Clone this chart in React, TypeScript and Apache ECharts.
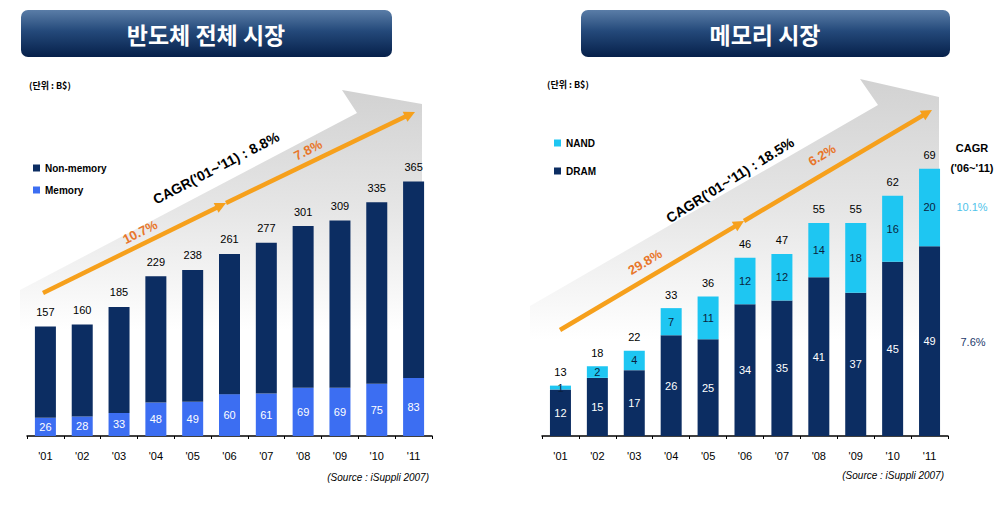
import React, { useEffect, useRef } from "react";
import * as echarts from "echarts";

const years = ["'01", "'02", "'03", "'04", "'05", "'06", "'07", "'08", "'09", "'10", "'11"];
// 반도체 전체 시장 (B$)
const semiTotal = [157, 160, 185, 229, 238, 261, 277, 301, 309, 335, 365];
const memory = [26, 28, 33, 48, 49, 60, 61, 69, 69, 75, 83];
// 메모리 시장 (B$)
const memTotal = [13, 18, 22, 33, 36, 46, 47, 55, 55, 62, 69];
const dram = [12, 15, 17, 26, 25, 34, 35, 41, 37, 45, 49];
const nand = [1, 2, 4, 7, 11, 12, 12, 14, 18, 16, 20];

const NAVY = "#0c2d62";
const MEM_BLUE = "#3c6ef2";
const CYAN = "#1ec6f2";
const ORANGE = "#f6a01c";
const ORANGE_TXT = "#e8762a";
const NUM_FONT = "'Liberation Sans', Arial, sans-serif";
const KR_FONT = "'Noto Sans CJK KR', sans-serif";

function arrow(x1: number, y1: number, x2: number, y2: number) {
  const dx = x2 - x1;
  const dy = y2 - y1;
  const len = Math.sqrt(dx * dx + dy * dy);
  const ux = dx / len;
  const uy = dy / len;
  const hl = 11;
  const hw = 5.5;
  const bx = x2 - ux * hl;
  const by = y2 - uy * hl;
  const px = -uy;
  const py = ux;
  return [
    {
      type: "line",
      z: 5,
      shape: { x1, y1, x2: bx + ux, y2: by + uy },
      style: { stroke: ORANGE, lineWidth: 4.5, lineCap: "butt" },
    },
    {
      type: "polygon",
      z: 5,
      shape: {
        points: [
          [x2, y2],
          [bx + px * hw, by + py * hw],
          [bx - px * hw, by - py * hw],
        ],
      },
      style: { fill: ORANGE },
    },
  ];
}

function txt(text: string, x: number, y: number, opts: any = {}) {
  return {
    type: "text",
    x,
    y,
    z: 6,
    rotation: opts.rotation || 0,
    style: {
      text,
      fill: opts.fill || "#000",
      fontSize: opts.fontSize || 11,
      fontWeight: opts.fontWeight || "normal",
      fontStyle: opts.fontStyle || "normal",
      fontFamily: opts.fontFamily || NUM_FONT,
      align: opts.align || "center",
      verticalAlign: "middle",
    },
  };
}

const deg = (d: number) => (d * Math.PI) / 180;

const bannerFill = {
  type: "linear",
  x: 0,
  y: 0,
  x2: 0,
  y2: 1,
  colorStops: [
    { offset: 0, color: "#5a7da7" },
    { offset: 0.45, color: "#24497a" },
    { offset: 1, color: "#06204a" },
  ],
};

function grayFill(y0: number, y1: number) {
  return {
    type: "linear",
    x: 0,
    y: y0,
    x2: 0,
    y2: y1,
    global: true,
    colorStops: [
      { offset: 0, color: "#d2d2d2" },
      { offset: 0.5, color: "#e6e6e6" },
      { offset: 1, color: "#ffffff" },
    ],
  };
}

export default function App() {
  const ref = useRef<HTMLDivElement>(null);

  useEffect(() => {
    if (!ref.current) return;
    const chart = echarts.init(ref.current, undefined, { renderer: "svg" });

    const nonMemory = semiTotal.map((t, i) => t - memory[i]);
    const nandSeg = memTotal.map((t, i) => t - dram[i]);

    const xAxisBase = {
      type: "category",
      data: years,
      axisLine: { lineStyle: { color: "#000", width: 1.5 } },
      axisTick: { show: true, length: 3, lineStyle: { color: "#000" } },
      axisLabel: { color: "#000", fontSize: 11, margin: 14, fontFamily: NUM_FONT },
      splitLine: { show: false },
    };

    const graphic: any[] = [
      // gray background arrows
      {
        type: "polygon",
        z: 0,
        shape: {
          points: [
            [20, 290],
            [357, 113],
            [342, 90],
            [422, 104],
            [422, 436],
            [20, 436],
          ],
        },
        style: { fill: grayFill(92, 330) },
      },
      {
        type: "polygon",
        z: 0,
        shape: {
          points: [
            [530, 306],
            [878, 105],
            [860, 79],
            [939, 97],
            [939, 436],
            [530, 436],
          ],
        },
        style: { fill: grayFill(80, 340) },
      },
      // banners
      {
        type: "rect",
        z: 1,
        shape: { x: 21, y: 10, width: 371, height: 47, r: 7 },
        style: { fill: bannerFill },
      },
      {
        type: "rect",
        z: 1,
        shape: { x: 581, y: 10, width: 369, height: 47, r: 7 },
        style: { fill: bannerFill },
      },
      txt("반도체 전체 시장", 206, 34, { fill: "#fff", fontSize: 23, fontWeight: "bold", fontFamily: KR_FONT }),
      txt("메모리 시장", 765, 34, { fill: "#fff", fontSize: 23, fontWeight: "bold", fontFamily: KR_FONT }),
      // units
      txt("(단위 : B$)", 29, 85, { fontSize: 9, fontWeight: "bold", fontFamily: KR_FONT, align: "left" }),
      txt("(단위 : B$)", 547, 84, { fontSize: 9, fontWeight: "bold", fontFamily: KR_FONT, align: "left" }),
      // orange arrows
      ...arrow(43, 293, 226, 203),
      ...arrow(226, 203, 415, 112),
      ...arrow(560, 330, 744, 221),
      ...arrow(744, 221, 932, 110),
      // CAGR annotations
      txt("CAGR('01~'11) : 8.8%", 216, 168, { fontSize: 14, fontWeight: "bold", rotation: deg(27.5) }),
      txt("10.7%", 140, 232, { fontSize: 13, fontWeight: "bold", fill: ORANGE_TXT, rotation: deg(27) }),
      txt("7.8%", 308, 150, { fontSize: 13, fontWeight: "bold", fill: ORANGE_TXT, rotation: deg(27) }),
      txt("CAGR('01~'11) : 18.5%", 730, 180, { fontSize: 14, fontWeight: "bold", rotation: deg(32) }),
      txt("29.8%", 645, 262, { fontSize: 13, fontWeight: "bold", fill: ORANGE_TXT, rotation: deg(31) }),
      txt("6.2%", 822, 155, { fontSize: 13, fontWeight: "bold", fill: ORANGE_TXT, rotation: deg(31) }),
      // right CAGR side notes
      txt("CAGR", 972, 148, { fontSize: 11, fontWeight: "bold" }),
      txt("('06~'11)", 972, 168, { fontSize: 11, fontWeight: "bold" }),
      txt("10.1%", 972, 207, { fontSize: 11, fill: "#4fc3ea" }),
      txt("7.6%", 973, 342, { fontSize: 11, fill: "#1d3a6b" }),
      // sources
      txt("(Source : iSuppli 2007)", 429, 477, { fontSize: 10, fontStyle: "italic", align: "right" }),
      txt("(Source : iSuppli 2007)", 944, 475, { fontSize: 10, fontStyle: "italic", align: "right" }),
    ];

    chart.setOption({
      animation: false,
      backgroundColor: "#fff",
      textStyle: { fontFamily: NUM_FONT },
      legend: [
        {
          data: ["Non-memory", "Memory"],
          orient: "vertical",
          left: 28,
          top: 158,
          itemWidth: 7,
          itemHeight: 7,
          itemGap: 12,
          icon: "rect",
          selectedMode: false,
          textStyle: { fontSize: 10, fontWeight: "bold", color: "#000", fontFamily: NUM_FONT },
        },
        {
          data: ["NAND", "DRAM"],
          orient: "vertical",
          left: 549,
          top: 133,
          itemWidth: 7,
          itemHeight: 7,
          itemGap: 18,
          icon: "rect",
          selectedMode: false,
          textStyle: { fontSize: 10, fontWeight: "bold", color: "#000", fontFamily: NUM_FONT },
        },
      ],
      grid: [
        { left: 27, width: 405, top: 157, height: 279 },
        { left: 542, width: 406, top: 126, height: 310 },
      ],
      xAxis: [
        { ...xAxisBase, gridIndex: 0 },
        { ...xAxisBase, gridIndex: 1 },
      ],
      yAxis: [
        { type: "value", gridIndex: 0, min: 0, max: 400, show: false },
        { type: "value", gridIndex: 1, min: 0, max: 80, show: false },
      ],
      graphic,
      series: [
        {
          name: "Memory",
          type: "bar",
          xAxisIndex: 0,
          yAxisIndex: 0,
          stack: "semi",
          barWidth: 21,
          data: memory,
          itemStyle: { color: MEM_BLUE },
          label: { show: true, position: "inside", color: "#fff", fontSize: 11 },
        },
        {
          name: "Non-memory",
          type: "bar",
          xAxisIndex: 0,
          yAxisIndex: 0,
          stack: "semi",
          barWidth: 21,
          data: nonMemory,
          itemStyle: { color: NAVY },
          label: {
            show: true,
            position: "top",
            distance: 9,
            color: "#000",
            fontSize: 11,
            formatter: (p: any) => String(semiTotal[p.dataIndex]),
          },
        },
        {
          name: "DRAM",
          type: "bar",
          xAxisIndex: 1,
          yAxisIndex: 1,
          stack: "mem",
          barWidth: 21,
          data: dram,
          itemStyle: { color: NAVY },
          label: { show: true, position: "inside", color: "#fff", fontSize: 11 },
        },
        {
          name: "NAND",
          type: "bar",
          xAxisIndex: 1,
          yAxisIndex: 1,
          stack: "mem",
          barWidth: 21,
          data: nandSeg,
          itemStyle: { color: CYAN },
          label: {
            show: true,
            position: "inside",
            color: "#0a1f40",
            fontSize: 11,
            formatter: (p: any) => String(nand[p.dataIndex]),
          },
        },
        {
          name: "memTotal",
          type: "scatter",
          xAxisIndex: 1,
          yAxisIndex: 1,
          symbolSize: 0,
          data: memTotal,
          itemStyle: { opacity: 1 },
          label: {
            show: true,
            position: "top",
            distance: 8,
            color: "#000",
            fontSize: 11,
          },
          silent: true,
        },
      ],
    });

    return () => chart.dispose();
  }, []);

  return (
    <div
      ref={ref}
      style={{ position: "fixed", left: 0, top: 0, width: 1004, height: 505 }}
    />
  );
}
